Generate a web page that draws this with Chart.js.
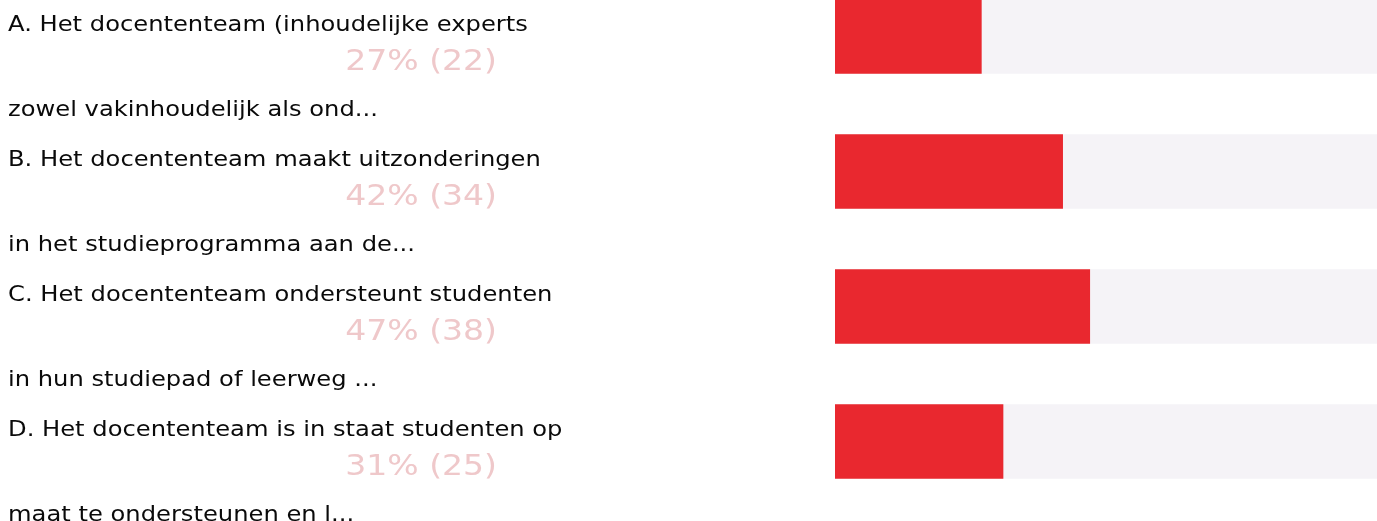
<!DOCTYPE html>
<html>
<head>
<meta charset="utf-8">
<script src="https://cdn.jsdelivr.net/npm/chart.js@4/dist/chart.umd.min.js"></script>
<style>
  html, body { margin: 0; padding: 0; background: #fff; overflow: hidden; }
  #wrap { position: absolute; left: 0; top: -31px; width: 1377px; height: 552px; }
</style>
</head>
<body>
<div id="wrap"><canvas id="answers"></canvas></div>
<script>
const categories = ['A', 'B', 'C', 'D'];
const firstLines = [
  'A. Het docententeam (inhoudelijke experts',
  'B. Het docententeam maakt uitzonderingen',
  'C. Het docententeam ondersteunt studenten',
  'D. Het docententeam is in staat studenten op',
];
const secondLines = [
  'zowel vakinhoudelijk als ond...',
  'in het studieprogramma aan de...',
  'in hun studiepad of leerweg ...',
  'maat te ondersteunen en l...',
];
const percentages = [27, 42, 47, 31];
const counts = [22, 34, 38, 25];
const fullTrack = [100, 100, 100, 100];

const RED = '#e9282f';
const TRACK = '#f5f3f7';
const PCT_COLOR = '#efc8ca';

// answer labels are drawn slightly wide, like Verdana
const drawText = (ctx, text, x, y, font, color, align, sx) => {
  ctx.save();
  ctx.translate(x, y);
  ctx.scale(sx, 1);
  ctx.font = font;
  ctx.fillStyle = color;
  ctx.textAlign = align;
  ctx.textBaseline = 'alphabetic';
  ctx.fillText(text, 0, 0);
  ctx.restore();
};

const answerLabels = {
  id: 'answerLabels',
  afterDraw(chart) {
    const { ctx, scales } = chart;
    categories.forEach((cat, i) => {
      const cy = scales.y.getPixelForValue(i);
      drawText(ctx, firstLines[i], 8, cy - 5.5, '22px "DejaVu Sans"', '#0a0a0a', 'left', 1.1);
      drawText(ctx, `${percentages[i]}% (${counts[i]})`, 497, cy + 33, '29px "DejaVu Sans"', PCT_COLOR, 'right', 1.14);
      drawText(ctx, secondLines[i], 8, cy + 79.5, '22px "DejaVu Sans"', '#0a0a0a', 'left', 1.1);
    });
  },
};

new Chart(document.getElementById('answers'), {
  type: 'bar',
  data: {
    labels: categories,
    datasets: [
      {
        label: 'percentage',
        data: percentages,
        backgroundColor: RED,
        grouped: false,
        order: 1,
        barThickness: 74,
      },
      {
        label: 'track',
        data: fullTrack,
        backgroundColor: TRACK,
        grouped: false,
        order: 2,
        barThickness: 74,
      },
    ],
  },
  options: {
    indexAxis: 'y',
    responsive: true,
    maintainAspectRatio: false,
    animation: false,
    layout: { padding: { left: 835, right: 0, top: 0, bottom: 12 } },
    scales: {
      x: { min: 0, max: 100, display: false },
      y: { display: false, offset: true },
    },
    plugins: {
      legend: { display: false },
      tooltip: { enabled: false },
    },
  },
  plugins: [answerLabels],
});
</script>
</body>
</html>
